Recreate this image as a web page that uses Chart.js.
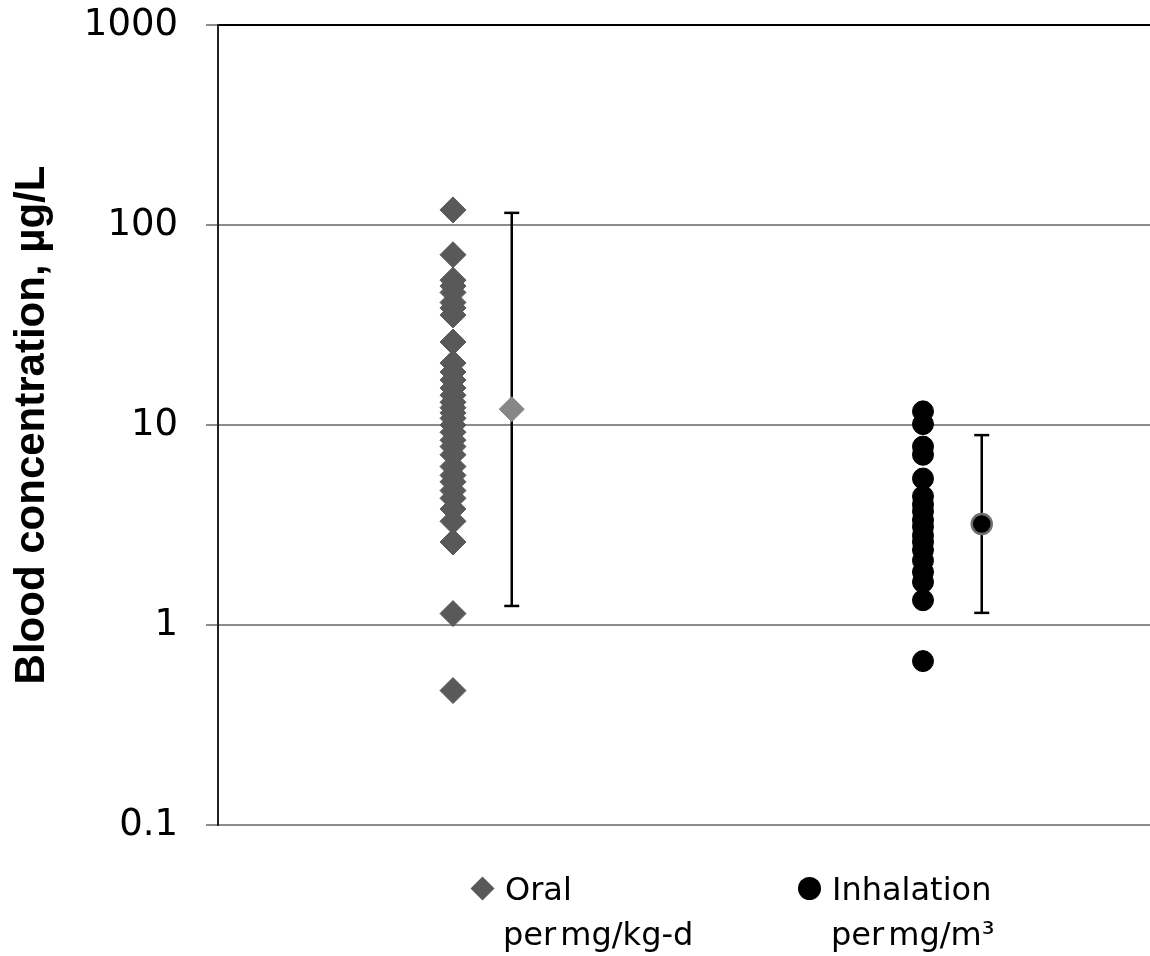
<!DOCTYPE html>
<html lang="en">
<head>
    <meta charset="UTF-8">
    <title>Blood concentration</title>
    <script src="https://cdn.jsdelivr.net/npm/chart.js"></script>
    <style>
        body { margin: 0; background: #fff; }
        .wrap { position: relative; width: 1150px; height: 956px; }
        .legend { position: absolute; font-family: 'DejaVu Sans', sans-serif; font-size: 32px; line-height: 32px; color: #000; white-space: nowrap; }
        .diamond { position: absolute; width: 17px; height: 17px; background: #595959; transform: rotate(45deg); }
        .dot { position: absolute; width: 23px; height: 23px; border-radius: 50%; background: #000; }
    </style>
</head>
<body>
    <div class="wrap">
        <canvas id="chart" width="1150" height="956"></canvas>
        <div class="diamond" style="left:474px; top:880px;"></div>
        <div class="legend" style="left:505px; top:873px;">Oral</div>
        <div class="legend" style="left:503px; top:918px; word-spacing:-6px;">per mg/kg-d</div>
        <div class="dot" style="left:798px; top:877px;"></div>
        <div class="legend" style="left:832px; top:873px;">Inhalation</div>
        <div class="legend" style="left:831px; top:918px; word-spacing:-6px;">per mg/m³</div>
    </div>
    <script>
        // group positions on the x axis
        const groupX = [1, 3];
        const summaryX = [1.25, 3.25];

        // individual blood concentrations, ug/L
        const oralValues = [119, 71, 53, 49.5, 46, 41, 38.5, 35.5, 26, 20.4, 18.4, 16.8, 15.3, 14.1, 13, 12.2,
            11.5, 10.8, 10, 9.2, 8.4, 7.8, 7.1, 6.2, 5.6, 5.2, 4.7, 4.3, 3.8, 3.3, 2.6, 1.14, 0.47];
        const inhalationValues = [11.7, 10.1, 7.8, 7.1, 5.4, 4.4, 4.0, 3.7, 3.35, 3.1, 2.8, 2.6, 2.37, 2.1,
            1.84, 1.64, 1.33, 0.66];

        // summary markers and ranges [oral, inhalation]
        const centralValues = [12, 3.2];
        const rangeLow = [1.245, 1.15];
        const rangeHigh = [115, 8.9];

        const yTicks = [0.1, 1, 10, 100, 1000];

        const pts = (x, vals) => vals.map(v => ({ x: x, y: v }));

        const errorBar = (i) => ({
            type: 'line',
            data: [{ x: summaryX[i], y: rangeLow[i] }, { x: summaryX[i], y: rangeHigh[i] }],
            showLine: true,
            borderColor: '#000',
            borderWidth: 2.5,
            pointStyle: 'line',
            pointRadius: 7.5,
            pointBorderWidth: 2.5,
            pointBorderColor: '#000',
            order: 2
        });

        new Chart(document.getElementById('chart'), {
            type: 'scatter',
            data: {
                datasets: [
                    {
                        label: 'Oral mean',
                        data: [{ x: summaryX[0], y: centralValues[0] }],
                        pointStyle: 'rectRot',
                        pointRadius: 12.5,
                        backgroundColor: '#878787',
                        borderColor: '#878787',
                        borderWidth: 1,
                        order: 0
                    },
                    {
                        label: 'Inhalation mean',
                        data: [{ x: summaryX[1], y: centralValues[1] }],
                        pointStyle: 'circle',
                        pointRadius: 10,
                        backgroundColor: '#000',
                        borderColor: '#6e6e6e',
                        borderWidth: 2.5,
                        order: 0
                    },
                    errorBar(0),
                    errorBar(1),
                    {
                        label: 'Oral',
                        data: pts(groupX[0], oralValues),
                        pointStyle: 'rectRot',
                        pointRadius: 13,
                        backgroundColor: '#595959',
                        borderColor: '#595959',
                        borderWidth: 1,
                        order: 3
                    },
                    {
                        label: 'Inhalation',
                        data: pts(groupX[1], inhalationValues),
                        pointStyle: 'circle',
                        pointRadius: 10.5,
                        backgroundColor: '#000',
                        borderColor: '#000',
                        borderWidth: 1,
                        order: 3
                    }
                ]
            },
            options: {
                responsive: false,
                animation: false,
                events: [],
                layout: { autoPadding: false, padding: { top: 25, bottom: 131, left: 0, right: 0 } },
                plugins: {
                    legend: { display: false },
                    tooltip: { enabled: false }
                },
                scales: {
                    x: {
                        type: 'linear',
                        min: 0,
                        max: 3.966,
                        display: false
                    },
                    y: {
                        type: 'logarithmic',
                        min: 0.1,
                        max: 1000,
                        afterBuildTicks: (scale) => {
                            scale.ticks = yTicks.map(v => ({ value: v }));
                        },
                        afterFit: (scale) => {
                            scale.width = 218;
                            scale.paddingTop = 0;
                            scale.paddingBottom = 0;
                        },
                        ticks: {
                            padding: 28,
                            color: '#000',
                            font: { family: 'DejaVu Sans', size: 37 },
                            callback: (v) => String(v)
                        },
                        grid: {
                            color: (ctx) => ctx.tick && ctx.tick.value === 1000 ? '#000' : '#8c8c8c',
                            lineWidth: 2,
                            tickLength: 12,
                            tickColor: '#8c8c8c'
                        },
                        border: { display: true, color: '#222', width: 2 },
                        title: {
                            display: true,
                            text: 'Blood concentration, µg/L',
                            color: '#000',
                            font: { family: 'Liberation Sans', size: 42, weight: 'bold' },
                            padding: { top: 7, bottom: 0 }
                        }
                    }
                }
            }
        });
    </script>
</body>
</html>
